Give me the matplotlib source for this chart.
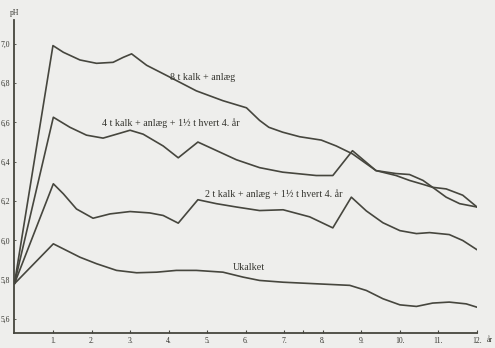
import matplotlib
matplotlib.use("Agg")
import matplotlib.pyplot as plt

plt.rcParams["font.family"] = ["Liberation Serif", "DejaVu Serif"]

# pH development over 12 years for four liming treatments
years_8t = [0, 1.0, 1.27, 1.70, 2.13, 2.56, 2.82, 3.04, 3.43, 4.03, 4.72, 5.41,
            6.02, 6.36, 6.6, 6.96, 7.4, 7.96, 8.35, 8.77, 9.38, 9.9, 10.25, 10.6,
            10.85, 11.2, 11.55, 12.0]
ph_8t = [5.78, 6.99, 6.956, 6.917, 6.90, 6.905, 6.93, 6.948, 6.89, 6.83, 6.76, 6.71,
         6.674, 6.61, 6.575, 6.55, 6.527, 6.51, 6.48, 6.44, 6.355, 6.34, 6.335, 6.305,
         6.27, 6.22, 6.187, 6.17]

years_4t = [0, 1.01, 1.44, 1.87, 2.30, 2.74, 3.0, 3.34, 3.86, 4.25, 4.76, 5.15, 5.76,
            6.36, 6.96, 7.83, 8.26, 8.77, 9.38, 9.9, 10.25, 10.6, 10.85, 11.2, 11.63,
            12.0]
ph_4t = [5.78, 6.626, 6.575, 6.535, 6.52, 6.545, 6.56, 6.54, 6.48, 6.42, 6.50, 6.465,
         6.41, 6.37, 6.347, 6.33, 6.33, 6.456, 6.355, 6.33, 6.305, 6.285, 6.27, 6.262,
         6.23, 6.17]

years_2t = [0, 1.01, 1.27, 1.61, 2.04, 2.48, 3.0, 3.51, 3.86, 4.25, 4.76, 5.24, 5.76,
            6.36, 6.97, 7.66, 8.26, 8.74, 9.13, 9.56, 10.0, 10.43, 10.77, 11.28, 11.63,
            12.0]
ph_2t = [5.78, 6.288, 6.237, 6.16, 6.113, 6.135, 6.147, 6.14, 6.127, 6.088, 6.207,
         6.187, 6.17, 6.152, 6.156, 6.12, 6.064, 6.22, 6.15, 6.09, 6.05, 6.035, 6.04,
         6.03, 6.0, 5.953]

years_0t = [0, 1.01, 1.70, 2.13, 2.65, 3.17, 3.69, 4.2, 4.72, 5.41, 5.93, 6.36, 6.97,
            7.83, 8.7, 9.13, 9.56, 10.0, 10.43, 10.85, 11.28, 11.72, 12.0]
ph_0t = [5.78, 5.983, 5.915, 5.882, 5.848, 5.836, 5.839, 5.848, 5.848, 5.839, 5.814,
         5.797, 5.788, 5.78, 5.772, 5.746, 5.704, 5.673, 5.665, 5.682, 5.687, 5.678,
         5.661]

labels = ["8 t kalk + anlæg",
          "4 t kalk + anlæg + 1½ t hvert 4. år",
          "2 t kalk + anlæg + 1½ t hvert 4. år",
          "Ukalket"]

x_ticks = list(range(1, 13))
x_ticklabels = [f"{i}." for i in x_ticks]
y_ticks = [5.6, 5.8, 6.0, 6.2, 6.4, 6.6, 6.8, 7.0]
y_ticklabels = [f"{v:.1f}".replace(".", ",") for v in y_ticks]

bg = "#eeeeec"
ink = "#46463e"
txt = "#34342e"

fig = plt.figure(figsize=(4.95, 3.48), dpi=100, facecolor=bg)
ax = fig.add_axes([14.4 / 495, 15 / 348, (477 - 14.4) / 495, (333 - 20) / 348])
ax.set_facecolor(bg)

for xs, ys in [(years_8t, ph_8t), (years_4t, ph_4t), (years_2t, ph_2t), (years_0t, ph_0t)]:
    ax.plot(xs, ys, color=ink, lw=1.2, solid_joinstyle="round", solid_capstyle="round")

ax.set_xlim(0, 12)
ax.set_ylim(5.53, 7.12)

for side in ("top", "right"):
    ax.spines[side].set_visible(False)
for side in ("left", "bottom"):
    ax.spines[side].set_color(ink)
    ax.spines[side].set_linewidth(1.3)

ax.set_xticks(x_ticks)
ax.set_xticklabels(x_ticklabels)
ax.set_xticks([7.48], minor=True)
ax.set_yticks(y_ticks)
ax.set_yticklabels(y_ticklabels)
ax.tick_params(axis="x", which="both", direction="in", length=2, width=0.8,
               colors=ink, labelcolor=txt, labelsize=5.5, pad=3)
ax.tick_params(axis="y", direction="in", length=1.5, width=0.6,
               colors=ink, labelcolor=txt, labelsize=5.5, pad=3)

fs = 7.2
ax.text(4.03, 6.83, labels[0], fontsize=fs, color=txt, va="center", ha="left")
ax.text(2.26, 6.595, labels[1], fontsize=fs, color=txt, va="center", ha="left")
ax.text(4.94, 6.237, labels[2], fontsize=fs, color=txt, va="center", ha="left")
ax.text(5.67, 5.862, labels[3], fontsize=fs, color=txt, va="center", ha="left")

fig.text(15 / 495, 1 - 13 / 348, "pH", fontsize=5.5, color=txt, ha="center", va="center")
fig.text(487 / 495, 1 - 340 / 348, "år", fontsize=5.5, color=txt, ha="left", va="center")

fig.savefig("out.png", dpi=100, facecolor=bg)
